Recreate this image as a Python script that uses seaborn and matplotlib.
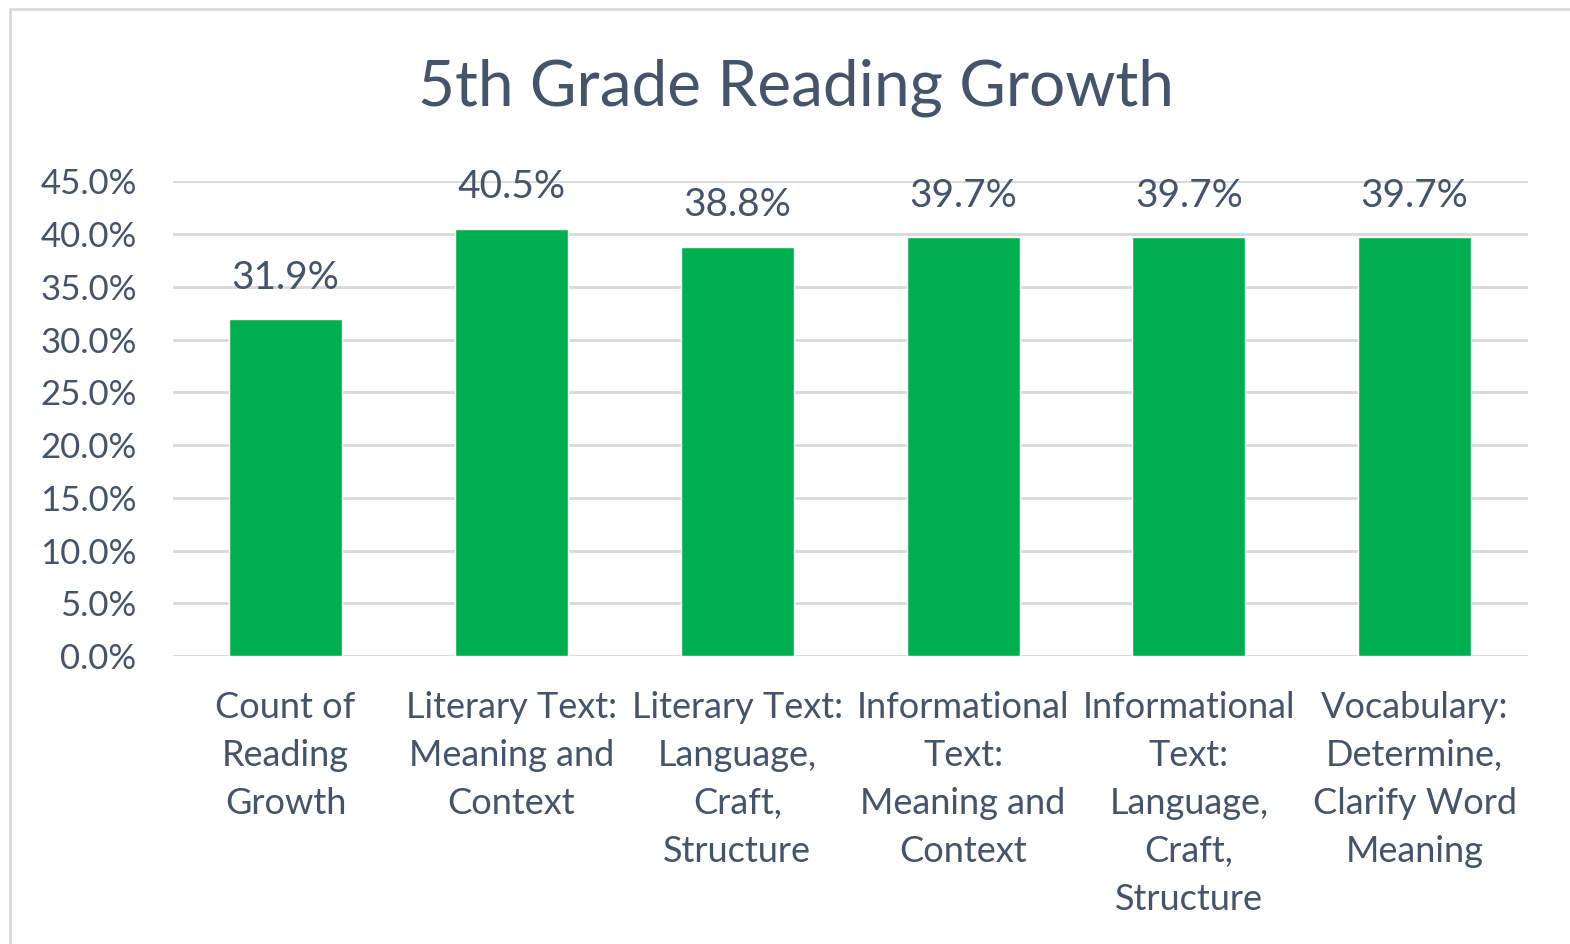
import matplotlib
matplotlib.use("Agg")
import matplotlib.pyplot as plt
import seaborn as sns
import pandas as pd
from matplotlib.patches import Rectangle

categories = [
    "Count of\nReading\nGrowth",
    "Literary Text:\nMeaning and\nContext",
    "Literary Text:\nLanguage,\nCraft,\nStructure",
    "Informational\nText:\nMeaning and\nContext",
    "Informational\nText:\nLanguage,\nCraft,\nStructure",
    "Vocabulary:\nDetermine,\nClarify Word\nMeaning",
]
values = [31.9, 40.5, 38.8, 39.7, 39.7, 39.7]
yticks = [0, 5, 10, 15, 20, 25, 30, 35, 40, 45]
title = "5th Grade Reading Growth"

sns.set_style("white")
plt.rcParams["font.family"] = ["Lato", "DejaVu Sans"]

text_color = "#44546A"
bar_color = "#00B050"
grid_color = "#D9D9D9"

fig = plt.figure(figsize=(15.7, 9.44), dpi=100)
ax = fig.add_axes([0.110, 0.305, 0.863, 0.503])

df = pd.DataFrame({"cat": categories, "val": values})
sns.barplot(data=df, x="cat", y="val", color=bar_color, width=0.5,
            saturation=1, ax=ax, zorder=3)

ax.set_ylim(0, 45)
ax.set_yticks(yticks)
ax.set_yticklabels([f"{v:.1f}%" for v in yticks], fontsize=25, color=text_color)
ax.tick_params(axis="y", length=0, pad=26)
ax.tick_params(axis="x", length=0, pad=25, labelsize=26, labelcolor=text_color)
for lbl in ax.get_xticklabels():
    lbl.set_linespacing(1.56)
ax.set_xlabel("")
ax.set_ylabel("")
ax.set_xlim(-0.5, len(categories) - 0.5)
ax.grid(axis="y", color=grid_color, linewidth=2, zorder=0)
for s in ax.spines.values():
    s.set_visible(False)

for i, v in enumerate(values):
    ax.annotate(f"{v:.1f}%", (i, v), xytext=(0, 17), textcoords="offset points",
                ha="center", va="bottom", fontsize=28, color=text_color)

fig.text(0.507, 0.907, title, ha="center", va="center", fontsize=46, color=text_color)

fig.patches.append(Rectangle((10 / 1570, -0.01), 1.02, (944 - 9) / 944 + 0.01,
                             transform=fig.transFigure, fill=False,
                             edgecolor="#D9D9D9", linewidth=2))

fig.savefig("out.png", dpi=100)
